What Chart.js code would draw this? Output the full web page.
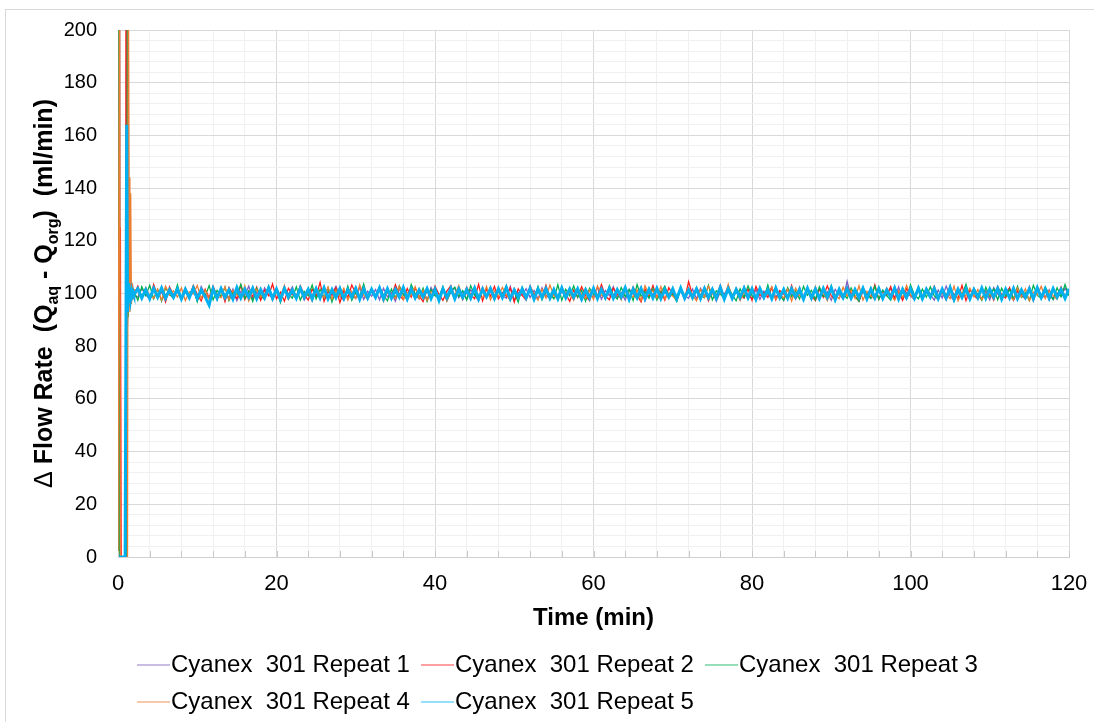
<!DOCTYPE html>
<html><head><meta charset="utf-8">
<script src="https://cdn.jsdelivr.net/npm/chart.js@4.4.1/dist/chart.umd.min.js"></script>
<style>
html,body{margin:0;padding:0;background:#fff;}
#wrap{position:relative;width:1094px;height:722px;overflow:hidden;}
#frame{position:absolute;left:5px;top:9px;width:1200px;height:800px;border-left:1px solid #d9d9d9;border-top:1px solid #d9d9d9;pointer-events:none}
canvas{position:absolute;left:0;top:0}
</style></head><body>
<div id="wrap"><canvas id="c" width="1094" height="722"></canvas><div id="frame"></div></div>
<script>
// Time (min)
const timeMin = [
0,0.1,0.2,0.3,0.4,0.5,0.6,0.7,0.8,0.9,
1,1.1,1.2,1.3,1.4,1.5,1.6,1.7,1.8,1.9,
2,
2.5,3,3.5,4,4.5,5,5.5,6,6.5,7,
7.5,8,8.5,9,9.5,10,10.5,11,11.5,12,
12.5,13,13.5,14,14.5,15,15.5,16,16.5,17,
17.5,18,18.5,19,19.5,20,20.5,21,21.5,22,
22.5,23,23.5,24,24.5,25,25.5,26,26.5,27,
27.5,28,28.5,29,29.5,30,30.5,31,31.5,32,
32.5,33,33.5,34,34.5,35,35.5,36,36.5,37,
37.5,38,38.5,39,39.5,40,40.5,41,41.5,42,
42.5,43,43.5,44,44.5,45,45.5,46,46.5,47,
47.5,48,48.5,49,49.5,50,50.5,51,51.5,52,
52.5,53,53.5,54,54.5,55,55.5,56,56.5,57,
57.5,58,58.5,59,59.5,60,60.5,61,61.5,62,
62.5,63,63.5,64,64.5,65,65.5,66,66.5,67,
67.5,68,68.5,69,69.5,70,70.5,71,71.5,72,
72.5,73,73.5,74,74.5,75,75.5,76,76.5,77,
77.5,78,78.5,79,79.5,80,80.5,81,81.5,82,
82.5,83,83.5,84,84.5,85,85.5,86,86.5,87,
87.5,88,88.5,89,89.5,90,90.5,91,91.5,92,
92.5,93,93.5,94,94.5,95,95.5,96,96.5,97,
97.5,98,98.5,99,99.5,100,100.5,101,101.5,102,
102.5,103,103.5,104,104.5,105,105.5,106,106.5,107,
107.5,108,108.5,109,109.5,110,110.5,111,111.5,112,
112.5,113,113.5,114,114.5,115,115.5,116,116.5,117,
117.5,118,118.5,119,119.5,120];

// Delta flow rate (ml/min) per repeat
const repeat1 = [
0,0,230,0,0,0,0,0,0,0,
0,210,88,103,96,102,98,101,99,101.5,
99,
98.7,101.8,99.5,97.9,102.4,98.3,100.6,97.4,101.9,99.2,
102.0,97.7,100.9,98.8,101.5,97.2,102.6,99.6,98.1,101.2,
97.6,102.3,99.0,98.5,101.7,97.3,100.8,99.4,102.8,98.0,
100.4,97.8,102.1,99.3,98.6,101.4,96.9,101.0,99.7,102.5,
98.2,101.6,97.5,100.7,99.1,102.2,97.9,101.3,98.4,100.0,
102.7,98.9,97.4,101.8,99.5,98.1,102.4,97.7,100.9,99.0,
101.5,97.6,102.0,98.7,100.3,97.1,101.7,99.8,98.3,102.6,
99.4,98.0,101.1,97.5,102.3,99.2,98.6,101.9,97.3,100.6,
102.1,98.4,100.8,97.8,101.4,99.6,97.2,102.5,98.9,101.0,
97.7,101.6,99.1,98.2,102.7,97.4,100.5,99.3,101.8,98.5,
101.2,97.9,102.2,99.0,98.4,101.5,97.6,100.9,99.7,102.0,
98.1,100.7,97.3,101.9,99.4,98.8,102.4,97.8,101.1,99.2,
102.6,98.3,100.4,97.5,101.6,99.9,98.0,102.1,97.2,100.8,
99.5,101.3,97.7,102.5,98.6,100.2,97.4,101.8,99.1,98.2,
101.7,97.9,102.0,99.3,98.5,101.2,97.1,100.6,99.8,102.3,
98.4,101.0,97.6,102.7,99.0,98.1,101.5,97.8,100.9,99.4,
102.2,98.7,100.5,97.3,101.9,99.6,98.2,102.4,97.5,101.1,
99.2,97.8,102.1,98.9,100.7,97.4,101.6,99.5,98.0,104.6,
98.6,101.4,97.2,100.8,99.3,102.0,97.9,101.2,98.4,100.1,
101.8,98.2,102.5,97.6,100.4,99.0,97.7,101.7,98.8,102.2,
99.7,97.5,101.3,98.3,102.8,99.1,97.3,100.9,98.6,101.5,
97.9,102.0,99.4,98.0,101.1,97.6,102.3,99.8,98.5,100.6,
102.1,97.4,100.8,99.2,98.1,101.9,97.8,102.4,99.0,98.7,
101.4,97.7,100.2,98.9,102.0,99.5];

const repeat2 = [
0,0,0,125,0,0,0,0,0,0,
240,107,95,104,98,102.5,97.5,101,99.5,100.8,
99.2,
102.8,98.1,101.9,97.6,103.4,99.0,101.2,96.8,102.5,99.4,
100.8,97.9,102.1,98.6,103.0,99.7,97.2,101.6,98.4,102.7,
99.1,101.8,96.9,102.3,99.5,98.2,103.1,97.7,100.9,98.9,
102.4,97.4,101.3,99.2,103.6,98.0,100.5,97.1,102.0,99.8,
98.3,102.9,99.6,97.5,101.7,98.8,104.2,97.0,100.7,99.3,
102.2,96.6,101.0,98.5,103.2,99.9,97.8,102.6,98.1,101.4,
99.0,102.5,97.3,100.6,98.7,103.3,99.4,97.6,101.9,98.6,
102.0,99.1,96.9,101.5,98.3,102.8,99.7,97.4,100.9,103.0,
98.2,101.1,97.7,102.4,99.5,98.0,103.5,97.2,101.6,99.0,
102.7,97.9,100.4,98.9,102.1,96.7,101.8,99.3,97.5,102.9,
99.6,101.2,98.4,103.1,97.8,100.2,98.6,102.3,99.8,97.0,
101.4,98.5,102.6,99.2,97.3,101.9,98.8,103.4,99.1,97.6,
102.0,99.7,98.1,101.3,97.9,102.5,99.4,96.8,101.7,98.7,
103.0,98.3,100.8,97.5,102.2,99.6,98.0,101.5,97.7,104.5,
99.3,101.0,98.6,102.4,97.2,100.9,99.0,103.2,98.4,101.6,
97.8,102.1,99.5,98.2,101.8,97.4,102.7,99.2,100.3,98.5,
102.3,97.6,101.1,99.8,98.1,103.0,97.9,100.6,98.8,102.0,
99.4,97.3,101.7,98.6,102.9,99.1,97.7,101.3,98.3,102.5,
100.1,98.9,97.1,102.2,99.6,98.4,103.3,97.8,101.0,99.2,
102.6,98.0,100.7,97.4,101.9,99.3,98.7,102.4,97.9,101.2,
99.0,102.8,98.2,100.5,97.6,101.6,99.7,98.1,103.1,97.3,
101.4,99.2,97.9,102.1,98.6,100.9,97.5,102.7,99.4,98.3,
102.2,97.7,101.0,99.5,98.0,102.6,97.2,101.5,98.9,102.0,
97.6,101.8,99.3,102.4,98.5,100.7];

const repeat3 = [
0,250,0,0,0,0,0,0,0,0,
0,0,250,91,106,95,104,97,102,99,
101,
97.4,102.6,99.2,103.1,98.0,101.5,97.1,102.2,99.6,98.3,
103.3,97.8,100.9,98.5,102.7,96.9,101.8,99.0,103.0,97.6,
101.2,98.8,102.4,97.3,100.6,99.5,103.5,98.1,101.0,97.0,
102.0,99.3,97.7,102.9,98.6,101.4,96.6,101.9,99.8,98.2,
102.5,97.5,100.8,99.1,103.2,97.9,101.6,98.4,102.1,96.8,
101.3,99.7,98.0,102.8,97.4,100.5,98.9,103.6,97.8,101.1,
98.5,102.3,99.4,97.2,101.7,98.2,102.9,99.6,97.6,103.4,
99.9,98.3,102.0,97.0,101.5,99.2,98.6,102.6,97.3,100.8,
102.4,98.9,101.1,97.5,103.0,99.5,97.9,101.8,98.7,102.2,
97.7,101.0,99.3,103.1,98.1,100.6,96.7,102.5,99.0,101.4,
98.4,102.7,97.6,100.9,99.8,98.0,103.3,97.4,101.6,99.1,
102.9,98.6,101.2,97.1,102.0,99.7,98.3,101.7,97.8,103.0,
99.4,97.9,102.3,98.8,101.5,97.3,103.4,99.0,100.7,98.2,
101.9,97.5,100.4,102.8,98.7,99.6,97.0,102.1,98.9,101.3,
97.8,102.4,99.2,98.4,103.1,97.6,101.0,99.8,98.1,102.6,
99.5,97.2,101.8,98.6,102.9,99.1,97.7,101.4,98.3,103.2,
98.0,101.6,99.4,97.4,102.2,98.8,100.9,97.9,102.7,99.3,
101.2,97.6,102.5,99.0,98.5,103.0,97.3,100.8,99.7,98.2,
102.1,98.9,97.1,101.9,99.6,98.1,102.8,97.8,101.3,99.2,
97.5,102.3,98.7,101.0,97.9,103.3,99.4,98.0,101.7,98.6,
102.6,99.1,97.7,101.4,98.4,102.9,97.2,100.6,99.5,103.5,
98.3,101.1,99.8,97.4,102.4,98.9,101.8,97.6,102.0,99.0,
101.5,97.9,102.7,98.5,100.3,97.3,103.1,99.3,98.1,102.5,
99.7,97.8,102.2,98.8,103.4,99.1];

const repeat4 = [
0,0,245,0,0,0,0,0,0,0,
0,0,0,230,144,93,138,96,104,98,
101.5,
100.9,97.9,102.3,99.1,98.2,101.7,97.5,102.8,99.4,101.0,
98.6,102.1,97.3,100.7,99.8,103.0,98.1,101.4,97.8,102.4,
99.0,98.4,102.6,97.6,101.2,99.5,98.0,102.9,97.2,100.8,
101.6,98.7,99.9,102.2,97.4,101.0,98.9,103.1,97.7,100.3,
99.2,102.7,98.3,100.6,97.1,101.8,99.7,98.5,102.5,97.9,
101.3,99.0,102.0,97.5,100.9,98.2,103.3,99.4,97.8,101.5,
98.8,102.4,97.0,101.1,99.6,98.1,102.8,97.7,100.4,99.2,
102.6,98.0,101.3,97.4,100.7,99.9,98.6,102.1,97.2,101.8,
99.3,103.0,98.4,100.2,97.9,101.5,99.0,98.3,102.7,97.6,
101.0,98.9,102.3,99.5,97.3,101.9,98.5,100.8,97.8,102.5,
99.7,97.5,101.6,98.2,103.2,99.1,97.9,102.0,98.7,100.5,
97.4,102.2,99.8,98.1,101.2,97.7,102.9,99.3,98.6,101.7,
98.0,100.9,97.6,102.4,99.2,98.8,101.4,97.3,103.0,99.6,
101.1,98.3,102.6,97.9,100.3,99.0,97.5,101.8,98.9,102.2,
99.4,97.2,101.5,98.5,102.8,99.9,97.8,100.7,98.2,103.4,
98.7,101.9,97.4,100.4,99.1,102.3,97.7,101.2,98.4,100.0,
102.5,97.9,99.6,98.3,101.7,97.1,102.0,99.3,98.8,101.4,
97.6,102.7,98.9,100.6,97.3,101.9,99.5,98.0,102.4,99.0,
101.3,98.1,102.9,97.5,100.8,99.2,97.8,101.6,98.6,102.1,
99.7,97.4,101.0,98.5,103.1,99.4,97.9,102.2,98.2,100.9,
98.3,102.6,97.7,101.2,99.8,98.0,102.8,97.2,100.5,99.1,
102.0,98.8,101.5,97.6,100.2,99.6,98.4,102.5,97.9,101.3,
99.0,97.5,102.1,98.7,101.8,97.3,100.6,99.4,102.7,98.1,
101.1,99.2,97.8,102.4,98.6,100.8];

const repeat5 = [
0,0,0,0,0,0,0,0,0,0,
0,164,93,104,97,102,98.5,101,99.5,100.5,
99.5,
101.8,98.3,101.5,98.0,101.9,98.6,102.1,98.2,101.4,98.5,
101.7,97.9,101.6,98.4,102.0,98.1,101.3,98.7,95.6,101.8,
98.2,101.9,98.5,101.4,97.9,102.2,98.3,101.6,98.6,102.0,
98.0,101.5,98.4,102.1,98.1,101.7,97.8,101.9,98.5,101.3,
98.2,102.0,98.6,101.6,97.9,101.8,98.3,102.2,98.0,101.5,
98.4,101.9,98.1,101.4,98.7,102.0,97.8,101.7,98.3,101.6,
98.5,102.1,98.0,101.8,98.2,101.5,98.6,102.3,97.9,101.7,
98.3,101.4,98.6,101.9,98.1,101.6,97.4,101.8,98.4,102.0,
98.0,101.7,98.5,101.5,98.2,102.1,97.9,101.6,98.7,101.9,
98.1,101.8,98.4,102.2,98.0,101.4,98.6,101.7,98.3,102.0,
97.8,101.6,98.5,101.9,98.2,101.5,98.0,102.1,98.4,101.7,
98.6,101.8,97.9,101.4,98.3,102.0,98.1,101.6,98.5,101.9,
98.2,101.5,98.7,102.2,97.8,101.7,98.4,101.9,98.0,101.6,
98.3,102.0,98.1,101.5,98.6,101.8,97.9,102.1,98.2,101.4,
98.5,101.7,98.0,101.9,98.4,101.6,98.2,102.3,97.9,101.8,
98.1,101.5,98.6,102.0,98.3,101.7,97.8,101.9,98.5,101.4,
98.0,102.1,98.4,101.6,98.2,101.8,98.6,101.5,97.9,102.0,
98.3,101.7,98.1,101.9,98.5,102.2,97.7,101.6,98.4,101.8,
98.2,101.5,98.6,102.0,98.0,101.7,98.3,101.9,98.1,101.4,
98.5,102.1,97.9,101.6,98.4,101.8,98.2,102.0,98.0,101.5,
98.6,101.9,98.1,101.7,98.3,102.2,97.8,101.6,98.5,101.8,
98.0,101.5,98.4,102.1,98.2,101.7,98.6,101.9,97.9,101.6,
98.3,102.0,98.1,101.4,98.5,101.8,98.0,102.2,98.4,101.7,
98.2,101.9,98.6,101.5,98.1,101.8];

const seriesLabels = ['Cyanex  301 Repeat 1','Cyanex  301 Repeat 2','Cyanex  301 Repeat 3','Cyanex  301 Repeat 4','Cyanex  301 Repeat 5'];
const seriesValues = [repeat1, repeat2, repeat3, repeat4, repeat5];
const seriesColors = ['#7F60C0','#FF1A1A','#00B050','#ED7D31','#00B0F0'];
const seriesWidths = [1.3, 1.3, 1.3, 1.3, 3];

const xTickLabels = [0,20,40,60,80,100,120];
const yTickLabels = [0,20,40,60,80,100,120,140,160,180,200];

const FONT = "'Liberation Sans', Arial, Helvetica, sans-serif";

const decor = {
  id: 'decor',
  afterDraw(chart) {
    const c = chart.ctx;
    const ca = chart.chartArea;
    const xs = chart.scales.x;
    // inward tick marks along x axis
    c.save();
    c.strokeStyle = '#c8c8c8';
    c.lineWidth = 1;
    xs.ticks.forEach(t => {
      const px = Math.round(xs.getPixelForValue(t.value)) + 0.5;
      c.beginPath(); c.moveTo(px, ca.bottom); c.lineTo(px, ca.bottom - 6); c.stroke();
    });
    c.restore();

    // x title
    c.save();
    c.fillStyle = '#000';
    c.font = 'bold 24px ' + FONT;
    c.textAlign = 'center'; c.textBaseline = 'middle';
    c.fillText('Time (min)', (ca.left + ca.right) / 2, 618);
    c.restore();

    // y title with subscripts
    const parts = [
      {t:'\u0394 ', f:'25px ' + FONT, dy:0},
      {t:'Flow Rate  (Q', f:'bold 25px ' + FONT, dy:0},
      {t:'aq', f:'bold 16px ' + FONT, dy:6},
      {t:' - Q', f:'bold 25px ' + FONT, dy:0},
      {t:'org', f:'bold 16px ' + FONT, dy:6},
      {t:')  (ml/min)', f:'bold 25px ' + FONT, dy:0}
    ];
    c.save();
    let total = 0;
    parts.forEach(p => { c.font = p.f; p.w = c.measureText(p.t).width; total += p.w; });
    c.translate(43, (ca.top + ca.bottom) / 2);
    c.rotate(-Math.PI / 2);
    c.fillStyle = '#000';
    c.textBaseline = 'alphabetic'; c.textAlign = 'left';
    let x = -total / 2;
    parts.forEach(p => { c.font = p.f; c.fillText(p.t, x, 9 + p.dy); x += p.w; });
    c.restore();

    // legend
    const cols = [137, 421, 705];
    const rows = [665, 702];
    c.save();
    c.font = '24px ' + FONT;
    c.textBaseline = 'middle'; c.textAlign = 'left';
    chart.data.datasets.forEach((ds, i) => {
      const lx = cols[i % 3], ly = rows[Math.floor(i / 3)];
      c.strokeStyle = ds.borderColor; c.globalAlpha = 0.55; c.lineWidth = 1.5;
      c.beginPath(); c.moveTo(lx, ly); c.lineTo(lx + 33, ly); c.stroke();
      c.globalAlpha = 1;
      c.fillStyle = '#000';
      c.fillText(ds.label, lx + 34, ly);
    });
    c.restore();
  }
};

// Chart.js paints lower 'order' last (on top): Repeat 5 on top, as in Excel.
const datasets = seriesLabels.map((lab, i) => ({
  label: lab,
  data: timeMin.map((t, k) => ({x: t, y: seriesValues[i][k]})),
  borderColor: seriesColors[i],
  backgroundColor: seriesColors[i],
  borderWidth: seriesWidths[i],
  order: seriesLabels.length - 1 - i,
  pointRadius: 0,
  tension: 0,
  fill: false
}));

const gridColor = ctx => (ctx.tick && ctx.tick.value % 20 === 0) ? '#d9d9d9' : '#f0f0f0';
const NOTICK = 'rgba(0,0,0,0)';

new Chart(document.getElementById('c'), {
  type: 'line',
  data: { datasets },
  options: {
    responsive: false,
    animation: false,
    events: [],
    layout: { padding: { left: 0, right: 25, top: 30, bottom: 0 } },
    plugins: { legend: { display: false }, tooltip: { enabled: false } },
    scales: {
      x: {
        type: 'linear', min: 0, max: 120,
        afterFit: s => { s.height = 165; },
        ticks: {
          stepSize: 4, autoSkip: false, maxRotation: 0, padding: 0,
          color: '#000', font: { family: FONT, size: 22 },
          callback: v => xTickLabels.includes(v) ? String(v) : ''
        },
        grid: { color: gridColor, drawTicks: true, tickLength: 14, tickColor: NOTICK, lineWidth: 1 },
        border: { color: '#d0d0d0' }
      },
      y: {
        min: 0, max: 200,
        afterFit: s => { s.width = 118; },
        ticks: {
          stepSize: 4, autoSkip: false, padding: 0,
          color: '#000', font: { family: FONT, size: 20 },
          callback: v => yTickLabels.includes(v) ? String(v) : ''
        },
        grid: { color: gridColor, drawTicks: true, tickLength: 21, tickColor: NOTICK, lineWidth: 1 },
        border: { color: '#d0d0d0' }
      }
    }
  },
  plugins: [decor]
});
</script>
</body></html>
